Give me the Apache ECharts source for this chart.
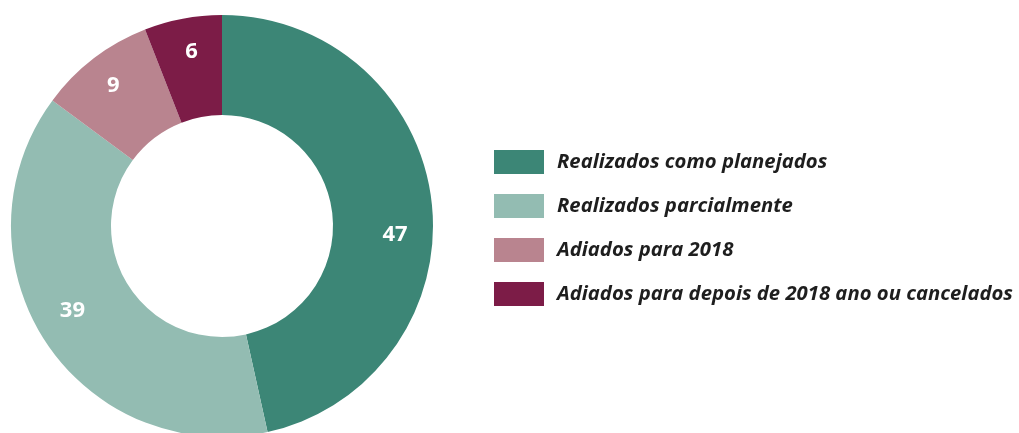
<!DOCTYPE html>
<html>
<head>
<meta charset="utf-8">
<script src="https://cdn.jsdelivr.net/npm/echarts@6/dist/echarts.min.js"></script>
<style>
  html, body { margin: 0; padding: 0; background: #ffffff; }
  #chart { width: 1019px; height: 433px; }
</style>
</head>
<body>
<div id="chart"></div>
<script>
// Status of the planned actions
const categories = [
  'Realizados como planejados',
  'Realizados parcialmente',
  'Adiados para 2018',
  'Adiados para depois de 2018 ano ou cancelados'
];
const values = [47, 39, 9, 6];
const colors = ['#3c8676', '#93bcb2', '#b9848f', '#7c1c47'];

// Small nudges for the value labels inside the ring
const labelShift = [[10, 27], [-12, -5], [-9, -10], [0, -13]];

const chart = echarts.init(document.getElementById('chart'), null, { renderer: 'canvas' });

chart.setOption({
  animation: false,
  backgroundColor: '#ffffff',
  color: colors,
  legend: {
    orient: 'vertical',
    left: 494,
    top: 147,
    padding: 0,
    itemWidth: 50,
    itemHeight: 24,
    itemGap: 14,
    icon: 'rect',
    selectedMode: false,
    data: categories,
    textStyle: {
      fontFamily: 'Open Sans',
      fontStyle: 'italic',
      fontWeight: 'bold',
      fontSize: 20.3,
      lineHeight: 24,
      color: '#1e1e1e',
      padding: [6, 0, 0, 8]
    }
  },
  series: [{
    type: 'pie',
    center: [222, 226],
    radius: [111, 211],
    startAngle: 90,
    clockwise: true,
    silent: true,
    label: {
      position: 'inside',
      formatter: '{c}',
      color: '#ffffff',
      fontFamily: 'Open Sans',
      fontWeight: 'bold',
      fontSize: 22
    },
    labelLine: { show: false },
    labelLayout: function (params) {
      const s = labelShift[params.dataIndex];
      return { dx: s[0], dy: s[1] };
    },
    itemStyle: { borderWidth: 0 },
    data: categories.map((name, i) => ({ name: name, value: values[i] }))
  }]
});
</script>
</body>
</html>
